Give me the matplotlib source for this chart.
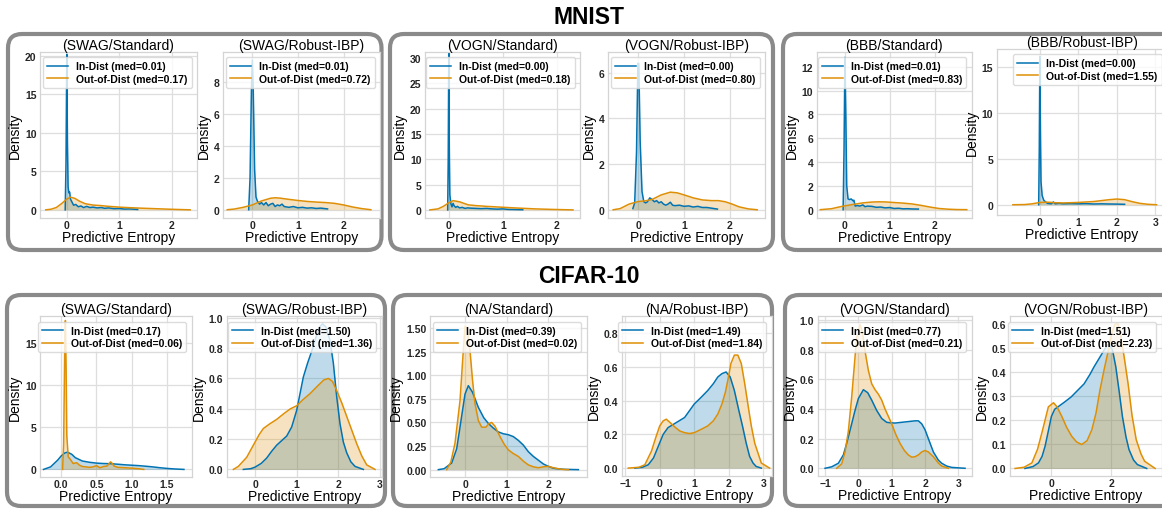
import matplotlib
matplotlib.use("Agg")
import matplotlib.pyplot as plt
from matplotlib.patches import FancyBboxPatch

plt.rcParams['font.family'] = ['Liberation Sans', 'DejaVu Sans']

# ---------------- data ----------------
titles = ["(SWAG/Standard)", "(SWAG/Robust-IBP)", "(VOGN/Standard)", "(VOGN/Robust-IBP)",
          "(BBB/Standard)", "(BBB/Robust-IBP)",
          "(SWAG/Standard)", "(SWAG/Robust-IBP)", "(NA/Standard)", "(NA/Robust-IBP)",
          "(VOGN/Standard)", "(VOGN/Robust-IBP)"]
in_meds = ["0.01", "0.01", "0.00", "0.00", "0.01", "0.00",
           "0.17", "1.50", "0.39", "1.49", "0.77", "1.51"]
out_meds = ["0.17", "0.72", "0.18", "0.80", "0.83", "1.55",
            "0.06", "1.36", "0.02", "1.84", "0.21", "2.23"]
dataset_titles = ["MNIST", "CIFAR-10"]

# MNIST SWAG / Standard
m_swag_std_in_x = [-0.03, -0.015, 0.0, 0.012, 0.025, 0.04, 0.055, 0.07, 0.1, 0.13, 0.17, 0.22, 0.27, 0.32,
                   0.38, 0.44, 0.5, 0.58, 0.66, 0.72, 0.8, 0.9, 1.0, 1.1, 1.2, 1.35]
m_swag_std_in_y = [0.0, 6.0, 20.2, 9.0, 3.0, 2.2, 2.3, 1.4, 1.0, 0.6, 0.7, 0.4, 0.5, 0.3,
                   0.45, 0.3, 0.35, 0.25, 0.3, 0.2, 0.25, 0.15, 0.18, 0.1, 0.12, 0.05]
m_swag_std_out_x = [-0.4, -0.3, -0.2, -0.1, 0.0, 0.07, 0.15, 0.25, 0.35, 0.5, 0.65, 0.8, 1.0, 1.2, 1.4,
                    1.6, 1.8, 2.0, 2.2, 2.35]
m_swag_std_out_y = [0.0, 0.08, 0.3, 0.8, 1.4, 1.65, 1.5, 1.1, 0.8, 0.62, 0.55, 0.45, 0.35, 0.28, 0.22,
                    0.17, 0.12, 0.07, 0.03, 0.0]
# MNIST SWAG / Robust-IBP
m_swag_ibp_in_x = [-0.08, -0.05, -0.02, 0.0, 0.02, 0.05, 0.08, 0.11, 0.16, 0.2, 0.25, 0.3, 0.35, 0.4, 0.45,
                   0.5, 0.55, 0.6, 0.65, 0.7, 0.8, 0.9, 1.0, 1.1, 1.2, 1.3, 1.4, 1.5, 1.65]
m_swag_ibp_in_y = [0.0, 2.0, 7.5, 9.4, 7.5, 2.5, 0.8, 0.55, 0.35, 0.45, 0.3, 0.45, 0.25, 0.35, 0.4,
                   0.2, 0.3, 0.25, 0.35, 0.2, 0.15, 0.2, 0.12, 0.15, 0.1, 0.12, 0.08, 0.1, 0.05]
m_swag_ibp_out_x = [-0.55, -0.4, -0.2, 0.0, 0.2, 0.4, 0.5, 0.6, 0.8, 1.0, 1.2, 1.4, 1.6, 1.8, 2.0, 2.2,
                    2.4, 2.6]
m_swag_ibp_out_y = [0.0, 0.04, 0.15, 0.3, 0.55, 0.72, 0.75, 0.73, 0.65, 0.58, 0.52, 0.48, 0.45, 0.4, 0.3,
                    0.17, 0.07, 0.0]
# MNIST VOGN / Standard
m_vogn_std_in_x = [-0.02, -0.01, 0.0, 0.01, 0.02, 0.04, 0.06, 0.08, 0.1, 0.13, 0.16, 0.2, 0.25, 0.3, 0.35,
                   0.4, 0.5, 0.6, 0.7, 0.8, 0.9, 1.0, 1.1, 1.2, 1.37]
m_vogn_std_in_y = [0.0, 10.0, 31.0, 12.0, 3.0, 1.2, 0.6, 1.3, 0.8, 0.5, 0.7, 0.4, 0.5, 0.3, 0.4,
                   0.35, 0.3, 0.25, 0.3, 0.2, 0.15, 0.2, 0.1, 0.08, 0.03]
m_vogn_std_out_x = [-0.35, -0.2, -0.1, 0.0, 0.08, 0.2, 0.36, 0.5, 0.7, 1.0, 1.3, 1.6, 1.9, 2.1, 2.3]
m_vogn_std_out_y = [0.0, 0.2, 0.7, 1.4, 1.83, 1.6, 1.0, 0.85, 0.7, 0.52, 0.35, 0.2, 0.1, 0.05, 0.0]
# MNIST VOGN / Robust-IBP
m_vogn_ibp_in_x = [-0.12, -0.08, -0.04, -0.01, 0.01, 0.04, 0.08, 0.12, 0.16, 0.2, 0.25, 0.3, 0.35, 0.4,
                   0.45, 0.5, 0.55, 0.6, 0.65, 0.7, 0.75, 0.8, 0.9, 1.0, 1.1, 1.2, 1.3, 1.4, 1.5, 1.6, 1.73]
m_vogn_ibp_in_y = [0.05, 0.3, 2.5, 6.4, 6.4, 3.0, 0.8, 0.35, 0.3, 0.35, 0.52, 0.45, 0.35, 0.4,
                   0.3, 0.35, 0.25, 0.2, 0.25, 0.33, 0.2, 0.18, 0.2, 0.15, 0.17, 0.12, 0.15, 0.1, 0.1, 0.07, 0.03]
m_vogn_ibp_out_x = [-0.55, -0.4, -0.2, 0.0, 0.15, 0.3, 0.5, 0.7, 0.85, 1.0, 1.2, 1.4, 1.6, 1.75, 1.9,
                    2.05, 2.2, 2.4, 2.6]
m_vogn_ibp_out_y = [0.0, 0.05, 0.25, 0.36, 0.39, 0.45, 0.65, 0.77, 0.74, 0.65, 0.52, 0.43, 0.4, 0.4, 0.35,
                    0.25, 0.13, 0.04, 0.0]
# MNIST BBB / Standard
m_bbb_std_in_x = [-0.04, -0.02, 0.0, 0.02, 0.04, 0.07, 0.1, 0.14, 0.18, 0.2, 0.23, 0.28, 0.33, 0.4, 0.45,
                  0.5, 0.6, 0.7, 0.8, 0.9, 1.0, 1.1, 1.2, 1.3, 1.4, 1.5, 1.64]
m_bbb_std_in_y = [0.0, 5.0, 12.8, 8.0, 2.0, 0.9, 0.85, 0.9, 0.75, 0.8, 0.3, 0.35, 0.3, 0.4, 0.25,
                  0.3, 0.28, 0.2, 0.22, 0.15, 0.18, 0.1, 0.12, 0.07, 0.08, 0.06, 0.05]
m_bbb_std_out_x = [-0.55, -0.3, -0.1, 0.0, 0.2, 0.4, 0.6, 0.75, 0.9, 1.1, 1.3, 1.5, 1.7, 1.9, 2.1, 2.3,
                   2.5, 2.72]
m_bbb_std_out_y = [0.0, 0.08, 0.25, 0.32, 0.45, 0.57, 0.64, 0.66, 0.65, 0.6, 0.55, 0.48, 0.36, 0.22, 0.1,
                   0.04, 0.01, 0.0]
# MNIST BBB / Robust-IBP
m_bbb_ibp_in_x = [-0.03, -0.015, 0.0, 0.015, 0.03, 0.06, 0.1, 0.15, 0.2, 0.3, 0.35, 0.4, 0.5, 0.6, 0.8,
                  1.0, 1.2, 1.4, 1.6, 1.8, 2.0, 2.2]
m_bbb_ibp_in_y = [0.0, 6.0, 16.1, 8.0, 2.5, 1.0, 0.5, 0.3, 0.15, 0.1, 0.3, 0.1, 0.15, 0.1, 0.12,
                  0.1, 0.12, 0.08, 0.1, 0.08, 0.07, 0.05]
m_bbb_ibp_out_x = [-0.7, -0.4, -0.2, 0.0, 0.2, 0.4, 0.6, 0.8, 1.0, 1.2, 1.4, 1.6, 1.8, 2.0, 2.2, 2.4, 2.6,
                   2.8, 3.03]
m_bbb_ibp_out_y = [0.0, 0.02, 0.1, 0.25, 0.28, 0.22, 0.2, 0.22, 0.25, 0.3, 0.35, 0.45, 0.55, 0.62, 0.55,
                   0.33, 0.15, 0.05, 0.0]
# CIFAR-10 SWAG / Standard
c_swag_std_in_x = [-0.25, -0.15, -0.05, 0.0, 0.05, 0.09, 0.15, 0.2, 0.3, 0.4, 0.5, 0.6, 0.7, 0.8, 0.9, 1.0,
                   1.1, 1.2, 1.3, 1.4, 1.5, 1.6, 1.74]
c_swag_std_in_y = [0.0, 0.3, 1.1, 1.6, 1.95, 2.05, 1.8, 1.4, 1.0, 0.85, 0.75, 0.7, 0.68, 0.62, 0.55, 0.5,
                   0.45, 0.38, 0.3, 0.2, 0.12, 0.06, 0.0]
c_swag_std_out_x = [0.02, 0.035, 0.05, 0.06, 0.07, 0.08, 0.1, 0.13, 0.17, 0.22, 0.26, 0.3, 0.35, 0.4, 0.45,
                    0.5, 0.55, 0.6, 0.65, 0.7, 0.72, 0.75, 0.8, 0.9, 1.0, 1.1, 1.17]
c_swag_std_out_y = [0.0, 3.0, 14.0, 17.7, 12.0, 4.0, 1.5, 1.2, 0.7, 0.8, 0.5, 0.35, 0.3, 0.25, 0.3,
                    0.45, 0.2, 0.35, 0.4, 0.9, 0.75, 0.4, 0.25, 0.2, 0.15, 0.08, 0.0]
# CIFAR-10 SWAG / Robust-IBP
c_swag_ibp_in_x = [-0.28, -0.1, 0.0, 0.15, 0.28, 0.4, 0.52, 0.64, 0.76, 0.88, 1.0, 1.08, 1.16, 1.26, 1.36,
                   1.46, 1.55, 1.62, 1.7, 1.8, 1.88, 1.96, 2.04, 2.12, 2.2, 2.3, 2.4, 2.6]
c_swag_ibp_in_y = [0.0, 0.005, 0.015, 0.04, 0.075, 0.12, 0.16, 0.19, 0.22, 0.28, 0.39, 0.5, 0.61, 0.7, 0.78,
                   0.87, 0.94, 0.96, 0.94, 0.85, 0.7, 0.48, 0.3, 0.18, 0.11, 0.05, 0.02, 0.0]
c_swag_ibp_out_x = [-0.52, -0.4, -0.2, 0.0, 0.1, 0.2, 0.35, 0.52, 0.7, 0.85, 1.0, 1.15, 1.32, 1.5, 1.65,
                    1.76, 1.86, 1.96, 2.08, 2.2, 2.32, 2.44, 2.56, 2.68, 2.88]
c_swag_ibp_out_y = [0.0, 0.02, 0.08, 0.18, 0.23, 0.27, 0.3, 0.33, 0.37, 0.4, 0.42, 0.46, 0.5, 0.55, 0.59,
                    0.6, 0.58, 0.52, 0.44, 0.35, 0.26, 0.17, 0.09, 0.03, 0.0]
# CIFAR-10 NA / Standard
c_na_std_in_x = [-0.64, -0.5, -0.32, -0.2, -0.12, 0.0, 0.08, 0.18, 0.32, 0.45, 0.56, 0.68, 0.8, 0.92, 1.04,
                 1.16, 1.28, 1.4, 1.52, 1.64, 1.76, 1.88, 2.0, 2.12, 2.24, 2.4, 2.72]
c_na_std_in_y = [0.0, 0.01, 0.07, 0.22, 0.45, 0.8, 0.89, 0.82, 0.66, 0.55, 0.49, 0.44, 0.4, 0.38, 0.37,
                 0.35, 0.31, 0.26, 0.19, 0.14, 0.1, 0.06, 0.035, 0.015, 0.008, 0.003, 0.0]
c_na_std_out_x = [-0.44, -0.34, -0.24, -0.12, -0.05, 0.0, 0.05, 0.12, 0.18, 0.24, 0.32, 0.4, 0.5, 0.58,
                  0.64, 0.72, 0.84, 0.94, 1.04, 1.16, 1.28, 1.4, 1.52, 1.64, 1.76, 1.88, 2.0, 2.12, 2.32, 2.48]
c_na_std_out_y = [0.0, 0.08, 0.28, 0.73, 1.2, 1.52, 1.5, 1.26, 0.95, 0.7, 0.52, 0.45, 0.45, 0.49,
                  0.5, 0.46, 0.35, 0.27, 0.21, 0.17, 0.14, 0.09, 0.05, 0.03, 0.02, 0.03, 0.035, 0.02, 0.003, 0.0]
# CIFAR-10 NA / Robust-IBP
c_na_ibp_in_x = [-0.72, -0.5, -0.33, -0.18, -0.04, 0.1, 0.24, 0.4, 0.56, 0.72, 0.86, 1.0, 1.2, 1.39, 1.55,
                 1.68, 1.8, 1.92, 2.04, 2.16, 2.28, 2.4, 2.5, 2.6, 2.7, 2.79, 2.94]
c_na_ibp_in_y = [0.0, 0.005, 0.02, 0.06, 0.13, 0.2, 0.24, 0.26, 0.28, 0.3, 0.34, 0.38, 0.42, 0.46, 0.5,
                 0.54, 0.56, 0.57, 0.54, 0.46, 0.35, 0.245, 0.15, 0.07, 0.03, 0.01, 0.0]
c_na_ibp_out_x = [-0.91, -0.6, -0.43, -0.24, -0.1, 0.0, 0.1, 0.19, 0.3, 0.43, 0.58, 0.72, 0.86, 1.0, 1.2,
                  1.39, 1.55, 1.68, 1.8, 1.9, 1.97, 2.06, 2.16, 2.26, 2.36, 2.46, 2.55, 2.65, 2.75, 2.94, 3.18]
c_na_ibp_out_y = [0.0, 0.005, 0.02, 0.1, 0.19, 0.25, 0.28, 0.29, 0.27, 0.245, 0.22, 0.21, 0.205, 0.21, 0.23,
                  0.25, 0.28, 0.32, 0.38, 0.45, 0.52, 0.62, 0.67, 0.67, 0.62, 0.5, 0.38, 0.25, 0.147, 0.03, 0.0]
# CIFAR-10 VOGN / Standard
c_vogn_std_in_x = [-1.0, -0.8, -0.6, -0.45, -0.35, -0.2, -0.1, 0.0, 0.15, 0.28, 0.4, 0.55, 0.7, 0.85, 0.95,
                   1.1, 1.3, 1.5, 1.7, 1.8, 1.9, 2.0, 2.1, 2.25, 2.4, 2.5, 2.65, 2.8, 3.2]
c_vogn_std_in_y = [0.0, 0.01, 0.034, 0.09, 0.168, 0.3, 0.39, 0.47, 0.53, 0.51, 0.46, 0.39, 0.336, 0.31, 0.307,
                   0.305, 0.31, 0.315, 0.32, 0.32, 0.3, 0.26, 0.2, 0.11, 0.055, 0.034, 0.015, 0.006, 0.0]
c_vogn_std_out_x = [-0.65, -0.5, -0.4, -0.3, -0.2, -0.1, -0.05, 0.05, 0.12, 0.2, 0.3, 0.4, 0.5, 0.6, 0.7,
                    0.8, 0.9, 1.0, 1.12, 1.25, 1.38, 1.5, 1.6, 1.7, 1.8, 1.9, 2.0, 2.1, 2.25, 2.4, 2.5, 2.7]
c_vogn_std_out_y = [0.0, 0.03, 0.11, 0.25, 0.48, 0.75, 0.88, 0.97, 0.92, 0.79, 0.66, 0.57, 0.53, 0.5, 0.46,
                    0.4, 0.35, 0.3, 0.23, 0.168, 0.12, 0.09, 0.075, 0.078, 0.09, 0.11, 0.12, 0.11, 0.078,
                    0.035, 0.015, 0.0]
# CIFAR-10 VOGN / Robust-IBP
c_vogn_ibp_in_x = [-0.87, -0.6, -0.42, -0.3, -0.2, -0.1, 0.01, 0.12, 0.23, 0.45, 0.67, 0.9, 1.1, 1.3, 1.43,
                   1.6, 1.77, 1.85, 1.93, 2.05, 2.16, 2.27, 2.38, 2.5, 2.6, 2.75, 2.88, 3.19]
c_vogn_ibp_in_y = [0.0, 0.008, 0.023, 0.05, 0.092, 0.15, 0.215, 0.245, 0.255, 0.275, 0.296, 0.325, 0.35,
                   0.39, 0.42, 0.455, 0.49, 0.505, 0.516, 0.49, 0.42, 0.32, 0.215, 0.13, 0.078, 0.035,
                   0.016, 0.0]
c_vogn_ibp_out_x = [-1.2, -0.9, -0.64, -0.45, -0.31, -0.2, -0.09, 0.08, 0.2, 0.36, 0.52, 0.69, 0.85, 1.02,
                    1.2, 1.36, 1.5, 1.63, 1.77, 1.91, 2.02, 2.13, 2.22, 2.3, 2.44, 2.57, 2.7, 2.84, 3.0,
                    3.12, 3.47]
c_vogn_ibp_out_y = [0.0, 0.005, 0.023, 0.08, 0.146, 0.2, 0.255, 0.272, 0.255, 0.215, 0.17, 0.133, 0.11,
                    0.099, 0.115, 0.16, 0.23, 0.324, 0.41, 0.488, 0.56, 0.597, 0.6, 0.57, 0.46, 0.35, 0.22,
                    0.119, 0.06, 0.03, 0.0]

series = [
    (m_swag_std_in_x, m_swag_std_in_y, m_swag_std_out_x, m_swag_std_out_y),
    (m_swag_ibp_in_x, m_swag_ibp_in_y, m_swag_ibp_out_x, m_swag_ibp_out_y),
    (m_vogn_std_in_x, m_vogn_std_in_y, m_vogn_std_out_x, m_vogn_std_out_y),
    (m_vogn_ibp_in_x, m_vogn_ibp_in_y, m_vogn_ibp_out_x, m_vogn_ibp_out_y),
    (m_bbb_std_in_x, m_bbb_std_in_y, m_bbb_std_out_x, m_bbb_std_out_y),
    (m_bbb_ibp_in_x, m_bbb_ibp_in_y, m_bbb_ibp_out_x, m_bbb_ibp_out_y),
    (c_swag_std_in_x, c_swag_std_in_y, c_swag_std_out_x, c_swag_std_out_y),
    (c_swag_ibp_in_x, c_swag_ibp_in_y, c_swag_ibp_out_x, c_swag_ibp_out_y),
    (c_na_std_in_x, c_na_std_in_y, c_na_std_out_x, c_na_std_out_y),
    (c_na_ibp_in_x, c_na_ibp_in_y, c_na_ibp_out_x, c_na_ibp_out_y),
    (c_vogn_std_in_x, c_vogn_std_in_y, c_vogn_std_out_x, c_vogn_std_out_y),
    (c_vogn_ibp_in_x, c_vogn_ibp_in_y, c_vogn_ibp_out_x, c_vogn_ibp_out_y),
]

# ---------------- layout (pixels in a 1162x510 canvas) ----------------
W, H = 1162.0, 510.0
# left, right, top, bottom
ax_px = [
    (40, 197, 53, 219), (222.7, 380, 53, 219),
    (425, 580, 53, 219), (607.7, 765, 53, 219),
    (816.7, 971.7, 53, 219), (996.7, 1167, 50, 215.7),
    (40, 191.7, 317.3, 478), (226.7, 381.7, 317.3, 478),
    (430, 586.7, 317.3, 478), (621.7, 771.7, 317.3, 476.7),
    (817.7, 971.7, 317.3, 476.7), (1010, 1161.7, 317.3, 476.7),
]
xlims = [(-0.51, 2.48), (-0.65, 2.8), (-0.44, 2.43), (-0.67, 2.77), (-0.63, 2.83), (-1.12, 3.3),
         (-0.30, 1.85), (-0.68, 3.04), (-0.84, 2.92), (-1.1, 3.24), (-1.22, 3.4), (-1.37, 3.69)]
ylims = [(-1.06, 20.5), (-0.52, 9.9), (-1.6, 31.2), (-0.36, 6.9), (-0.7, 13.25), (-1.08, 16.9),
         (-0.9, 18.2), (-0.05, 1.01), (-0.078, 1.625), (-0.045, 0.9), (-0.05, 1.025), (-0.03, 0.63)]
xticks = [[0, 1, 2], [0, 1, 2], [0, 1, 2], [0, 1, 2], [0, 1, 2], [0, 1, 2, 3],
          [0.0, 0.5, 1.0, 1.5], [0, 1, 2, 3], [0, 1, 2], [-1, 0, 1, 2, 3], [-1, 0, 1, 2, 3], [0, 2]]
yticks = [[0, 5, 10, 15, 20], [0, 2, 4, 6, 8], [0, 5, 10, 15, 20, 25, 30], [0, 2, 4, 6],
          [0, 2, 4, 6, 8, 10, 12], [0, 5, 10, 15], [0, 5, 10, 15], [0.0, 0.2, 0.4, 0.6, 0.8, 1.0],
          [0.0, 0.25, 0.5, 0.75, 1.0, 1.25, 1.5], [0.0, 0.2, 0.4, 0.6, 0.8],
          [0.0, 0.2, 0.4, 0.6, 0.8, 1.0], [0.0, 0.1, 0.2, 0.3, 0.4, 0.5, 0.6]]

BLUE = '#0173b2'
ORANGE = '#de8f05'
GRID = '#dedede'
BOXC = '#8a8a8a'

fig = plt.figure(figsize=(W / 100, H / 100), dpi=100)

# rounded group boxes (in inches so corners stay round)
boxes_px = [(8, 381.5, 35, 251), (390, 773, 35, 251), (783, 1180, 35, 251),
            (7, 385, 296, 507), (393, 772, 296, 507), (785, 1180, 296, 507)]
for (l, r, t, b) in boxes_px:
    p = FancyBboxPatch((l / 100, (H - b) / 100), (r - l) / 100, (b - t) / 100,
                       boxstyle="round,pad=0,rounding_size=0.14",
                       transform=fig.dpi_scale_trans, fill=False,
                       edgecolor=BOXC, linewidth=3.0, zorder=-5)
    fig.patches.append(p)

fig.text(589 / W, 1 - 18 / H, dataset_titles[0], ha='center', va='center',
         fontsize=16.5, fontweight='bold')
fig.text(589 / W, 1 - 277 / H, dataset_titles[1], ha='center', va='center',
         fontsize=16.5, fontweight='bold')

for i, (ix, iy, ox, oy) in enumerate(series):
    l, r, t, b = ax_px[i]
    ax = fig.add_axes([l / W, 1 - b / H, (r - l) / W, (b - t) / H])
    ax.set_facecolor('white')
    ax.fill_between(ix, iy, 0, color=BLUE, alpha=0.25, linewidth=0)
    ax.fill_between(ox, oy, 0, color=ORANGE, alpha=0.25, linewidth=0)
    ax.plot(ix, iy, color=BLUE, lw=1.1, label=f"In-Dist (med={in_meds[i]})")
    ax.plot(ox, oy, color=ORANGE, lw=1.1, label=f"Out-of-Dist (med={out_meds[i]})")
    ax.set_xlim(*xlims[i])
    ax.set_ylim(*ylims[i])
    ax.set_xticks(xticks[i])
    ax.set_yticks(yticks[i])
    ax.grid(True, color=GRID, lw=0.9)
    ax.set_axisbelow(True)
    for s in ax.spines.values():
        s.set_color('#d4d4d4')
        s.set_linewidth(0.9)
    ax.tick_params(axis='x', length=0, labelsize=7.5, pad=1.5, colors='#262626')
    ax.tick_params(axis='y', length=0, labelsize=7.5, pad=2.5, colors='#262626')
    for lab in ax.get_xticklabels() + ax.get_yticklabels():
        lab.set_fontweight('bold')
    ax.set_title(titles[i], fontsize=10, pad=2.5)
    ax.set_xlabel('Predictive Entropy', fontsize=10, labelpad=0)
    ax.set_ylabel('Density', fontsize=10, labelpad=2)
    leg = ax.legend(loc='upper right', prop={'weight': 'bold', 'size': 7.5},
                    handlelength=2.0, labelspacing=0.25, borderpad=0.4,
                    handletextpad=0.8, framealpha=0.8, edgecolor='#d4d4d4')

fig.savefig('out.png', dpi=100)
